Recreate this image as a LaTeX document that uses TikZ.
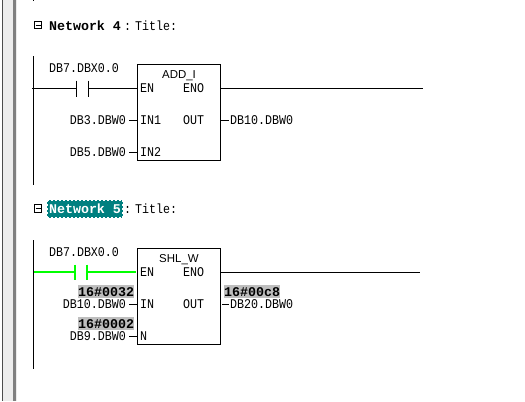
\documentclass[tikz,border=0pt]{standalone}
\usepackage{fontspec}
\setmainfont[FakeStretch=0.875,BoldFeatures={FakeStretch=1}]{Liberation Mono}
\newfontfamily\sansf{Liberation Sans}
\definecolor{teal5}{RGB}{0,128,128}
\definecolor{grayhl}{RGB}{190,190,190}
\definecolor{wire}{RGB}{0,255,0}
\tikzset{
 x=0.75pt,y=-0.75pt,
 every node/.style={inner sep=0pt,outer sep=0pt},
 lbl/.style={font=\fontsize{10}{11}\selectfont,anchor=base west},
 lblr/.style={font=\fontsize{10}{11}\selectfont,anchor=base east},
 val/.style={font=\bfseries\fontsize{10}{11}\selectfont,fill=grayhl,anchor=base west,text depth=1.4pt,text height=8.2pt},
 head/.style={font=\bfseries\fontsize{10}{11}\selectfont,anchor=base west},
 fbd/.style={draw=black,line width=0.75pt,fill=white},
 wirel/.style={line width=0.75pt},
 greenl/.style={line width=1.5pt,draw=wire},
 fname/.style={font=\sansf\fontsize{8.6}{10}\selectfont,anchor=base},
 plusbox/.style={draw=black,line width=0.75pt,minimum size=5.5pt},
}
\begin{document}
\begin{tikzpicture}
\useasboundingbox (0,0) rectangle (525,401);
\fill[white] (0,0) rectangle (525,401);
% window frame
\fill[black!70] (2,0) rectangle (3,401);
\fill[black!7] (3,0) rectangle (13,401);
\fill[black!50] (13,0) rectangle (15.5,401);
\fill[black!8] (15.5,0) rectangle (17,401);
% stub above network 4
\draw[wirel] (33.5,0) -- (33.5,1);
% Network 4
\node[plusbox] (p4) at (38,25) {};
\draw[wirel] (35.5,25) -- (40.5,25);
\node[head] (h4) at (49,30) {Network 4};
\node[lbl] (t4) at (124,30) {:};
\node[lbl] (t4b) at (135,30) {Title:};
\coordinate (r4a) at (33.5,56);
\coordinate (r4b) at (33.5,184.5);
\draw[wirel] (r4a) -- (r4b);
\node[lbl] (c4) at (49,72) {DB7.DBX0.0};
\node[fbd,minimum width=83pt*0.75,minimum height=96pt*0.75,anchor=north west] (b4) at (137.5,64.5) {};
\node[fname] (f4) at (179,78) {ADD\_I};
\node[lbl] (en4) at (140,92) {EN};
\node[lbl] (eno4) at (183,92) {ENO};
\node[lbl] (in41) at (140,124) {IN1};
\node[lbl] (out4) at (183,124) {OUT};
\node[lbl] (in42) at (140,156) {IN2};
\coordinate (w4l) at (32,88.5);
\coordinate (k4a) at (76,88.5);
\coordinate (k4b) at (88,88.5);
\draw[wirel] (w4l) -- (k4a);
\draw[wirel] (k4b) -- (b4.north west |- k4b);
\draw[wirel] (76,80.5) -- (76,96.5);
\draw[wirel] (88,80.5) -- (88,96.5);
\coordinate (e4) at (423,88.5);
\draw[wirel] (b4.north east |- e4) -- (e4);
\node[lblr] (a41) at (126,124) {DB3.DBW0};
\node[lblr] (a42) at (126,156) {DB5.DBW0};
\draw[wirel] (129,120.5) -- (137.5,120.5);
\draw[wirel] (129,152.5) -- (137.5,152.5);
\node[lbl] (o4) at (230,124) {DB10.DBW0};
\draw[wirel] (220.5,120.5) -- (229,120.5);
% Network 5
\node[plusbox] (p5) at (38,208.5) {};
\draw[wirel] (35.5,208.5) -- (40.5,208.5);
\fill[teal5] (47,200) rectangle (122.5,217.5);
\draw[white,dash pattern=on 1.5pt off 1.5pt,line width=0.75pt] (47,200.5) -- (122.5,200.5) (47,217) -- (122.5,217) (122,200) -- (122,217.5) (47.5,200) -- (47.5,217.5);
\node[head,text=white] (h5) at (49,213) {Network 5};
\node[lbl] (t5) at (124,213) {:};
\node[lbl] (t5b) at (135,213) {Title:};
\coordinate (r5a) at (33.5,240);
\coordinate (r5b) at (33.5,368.5);
\draw[wirel] (r5a) -- (r5b);
\node[lbl] (c5) at (49,256) {DB7.DBX0.0};
\node[fbd,minimum width=83pt*0.75,minimum height=96pt*0.75,anchor=north west] (b5) at (137.5,248.5) {};
\node[fname] (f5) at (179,262) {SHL\_W};
\node[lbl] (en5) at (140,276) {EN};
\node[lbl] (eno5) at (183,276) {ENO};
\node[lbl] (in51) at (140,308) {IN};
\node[lbl] (out5) at (183,308) {OUT};
\node[lbl] (in52) at (140,340) {N};
\coordinate (w5l) at (34,272);
\coordinate (k5a) at (75,272);
\coordinate (k5b) at (87,272);
\draw[greenl] (w5l) -- (k5a);
\draw[greenl] (k5b) -- (136,272);
\draw[greenl] (75,264.5) -- (75,280);
\draw[greenl] (87,264.5) -- (87,280);
\coordinate (e5) at (420,272.5);
\draw[wirel] (b5.north east |- e5) -- (e5);
\node[val] (v1) at (78,296) {16\#0032};
\node[val] (v2) at (78,328) {16\#0002};
\node[val] (v3) at (224,296) {16\#00c8};
\node[lblr] (a51) at (126,308) {DB10.DBW0};
\node[lblr] (a52) at (126,340) {DB9.DBW0};
\draw[wirel] (129,304.5) -- (137.5,304.5);
\draw[wirel] (129,336.5) -- (137.5,336.5);
\node[lbl] (o5) at (230,308) {DB20.DBW0};
\draw[wirel] (222,304.5) -- (229,304.5);
\end{tikzpicture}
\end{document}
